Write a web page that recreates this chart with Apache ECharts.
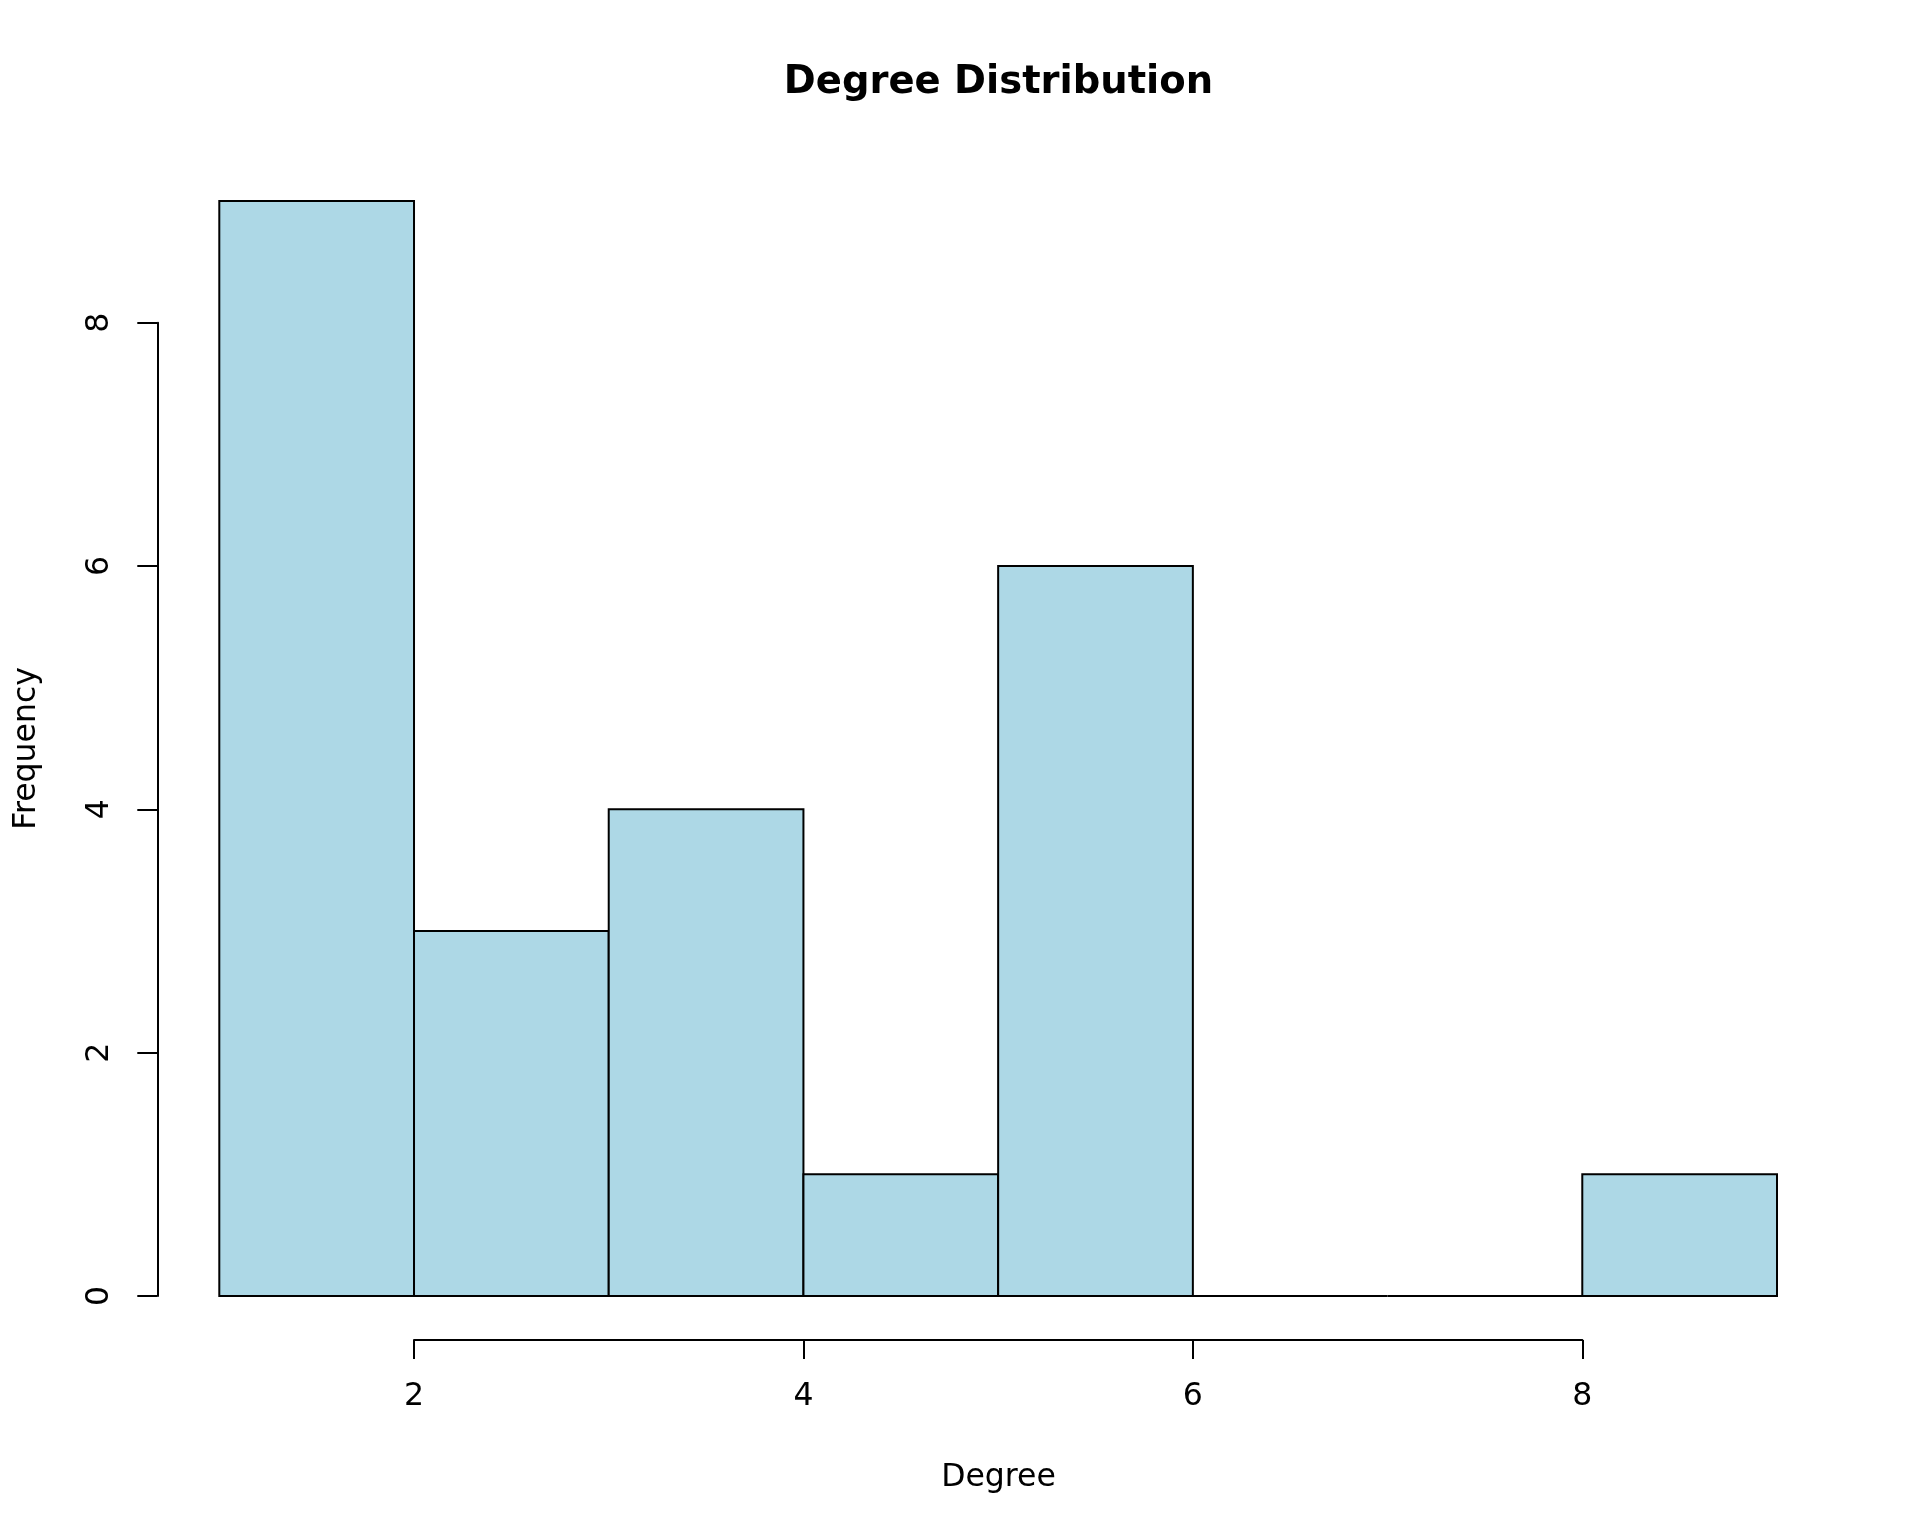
<!DOCTYPE html>
<html><head><meta charset="utf-8">
<script src="https://cdn.jsdelivr.net/npm/echarts@6/dist/echarts.min.js"></script>
<style>html,body{margin:0;padding:0;background:#fff}#c{width:1920px;height:1536px}</style>
</head><body><div id="c"></div>
<script>
const binEdges = [1, 2, 3, 4, 5, 6, 7, 8, 9];
const counts = [9, 3, 4, 1, 6, 0, 0, 1];
const xTicks = [2, 4, 6, 8];
const yTicks = [0, 2, 4, 6, 8];
const titleText = 'Degree Distribution';
const xName = 'Degree';
const yName = 'Frequency';

const FONT = 'DejaVu Sans';
const bins = counts.map((c, i) => [binEdges[i], binEdges[i + 1], c]);

const chart = echarts.init(document.getElementById('c'), null, {renderer: 'canvas'});
chart.setOption({
  animation: false,
  backgroundColor: '#ffffff',
  grid: [
    {left: 219.3, width: 1557.7, top: 201, height: 1095, outerBoundsMode: 'none', containLabel: false},
    {left: 414, width: 1168.3, top: 1300, height: 40, outerBoundsMode: 'none', containLabel: false},
    {left: 157.3, width: 10, top: 322.7, height: 973.3, outerBoundsMode: 'none', containLabel: false}
  ],
  xAxis: [
    {gridIndex: 0, type: 'value', min: 1, max: 9, show: false},
    {gridIndex: 1, type: 'value', min: xTicks[0], max: xTicks[xTicks.length - 1], interval: 2, position: 'bottom',
      splitLine: {show: false},
      axisLine: {show: true, lineStyle: {color: '#000', width: 2}},
      axisTick: {show: true, length: 19, inside: false, lineStyle: {color: '#000', width: 2}},
      axisLabel: {show: true, color: '#000', fontFamily: FONT, fontSize: 31.5, margin: 41,
        formatter: v => xTicks.includes(v) ? String(v) : ''}},
    {gridIndex: 2, type: 'value', show: false}
  ],
  yAxis: [
    {gridIndex: 0, type: 'value', min: 0, max: 9, show: false},
    {gridIndex: 1, type: 'value', show: false},
    {gridIndex: 2, type: 'value', min: yTicks[0], max: yTicks[yTicks.length - 1], interval: 2, position: 'left',
      splitLine: {show: false},
      axisLine: {show: true, lineStyle: {color: '#000', width: 2}},
      axisTick: {show: true, length: 20, inside: false, lineStyle: {color: '#000', width: 2}},
      axisLabel: {show: true, color: '#000', fontFamily: FONT, fontSize: 31.5, rotate: 90, margin: 41,
        formatter: v => yTicks.includes(v) ? String(v) : ''}}
  ],
  graphic: [
    {type: 'text', x: 998.5, y: 82.5, style: {text: titleText, font: 'bold 38.5px "DejaVu Sans"', fill: '#000', align: 'center', verticalAlign: 'middle'}},
    {type: 'text', x: 998.5, y: 1477.5, style: {text: xName, font: '31.5px "DejaVu Sans"', fill: '#000', align: 'center', verticalAlign: 'middle'}},
    {type: 'text', x: 27, y: 748.5, rotation: Math.PI / 2, style: {text: yName, font: '31.5px "DejaVu Sans"', fill: '#000', align: 'center', verticalAlign: 'middle'}}
  ],
  series: [{
    type: 'custom',
    xAxisIndex: 0, yAxisIndex: 0,
    data: bins,
    encode: {x: [0, 1], y: 2},
    renderItem: function (params, api) {
      const p0 = api.coord([api.value(0), api.value(2)]);
      const p1 = api.coord([api.value(1), 0]);
      return {
        type: 'rect',
        shape: {x: p0[0], y: p0[1], width: p1[0] - p0[0], height: p1[1] - p0[1]},
        style: {fill: '#ADD8E6', stroke: '#000', lineWidth: 2}
      };
    }
  }]
});
</script></body></html>
